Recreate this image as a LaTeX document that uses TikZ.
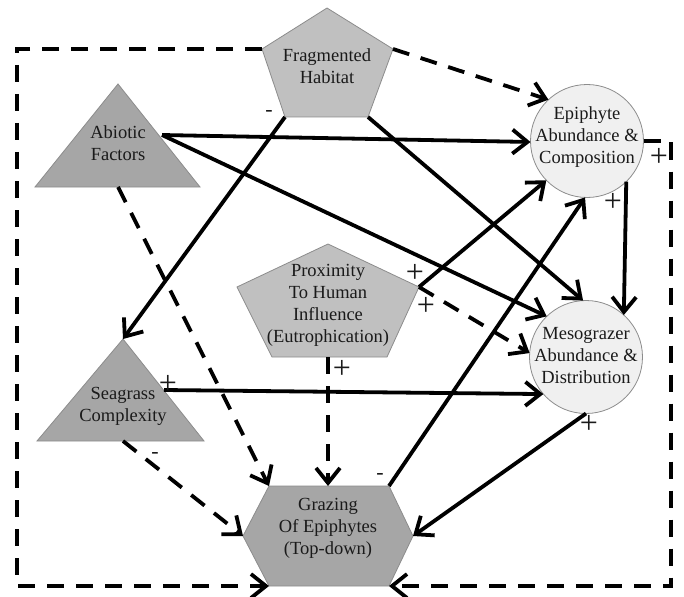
\documentclass[tikz,border=0pt]{standalone}
\usepackage{fontspec}
\setmainfont{Liberation Serif}
\newfontfamily\timesfam{Liberation Serif}
\usetikzlibrary{arrows.meta}
\definecolor{tri}{HTML}{A6A6A6}
\definecolor{pent}{HTML}{C0C0C0}
\definecolor{circ}{HTML}{F0F0F0}
\definecolor{edgegray}{HTML}{8C8C8C}
\definecolor{txt}{HTML}{1A1A1A}
\begin{document}
\begin{tikzpicture}[x=1pt,y=-1pt,
  shapeline/.style={draw=edgegray, line width=0.8pt},
  lbl/.style={font=\timesfam\fontsize{18.5}{22}\selectfont, text=txt, align=center, inner sep=0pt},
  conn/.style={line width=3.8pt, -{Straight Barb[length=15pt,width=24pt]}},
  dconn/.style={conn, dash pattern=on 17pt off 12pt},
  sign/.style={font=\timesfam\fontsize{32}{32}\selectfont, text=txt, inner sep=0pt},
  neg/.style={font=\timesfam\fontsize{22}{22}\selectfont, text=txt, inner sep=0pt},
  blob/.style={circle, minimum size=113pt, inner sep=0pt, outer sep=0pt, fill=circ, shapeline},
]
\useasboundingbox (0,0) rectangle (684,596);

% Fragmented Habitat
\coordinate (fhT) at (327,8);
\coordinate (fhUL) at (262,49);
\coordinate (fhUR) at (393,49);
\coordinate (fhLR) at (368,117);
\coordinate (fhLL) at (285,117);
\filldraw[fill=pent, shapeline] (fhT) -- (fhUR) -- (fhLR) -- (fhLL) -- (fhUL) -- cycle;
\node[lbl] (fh) at (327,66) {Fragmented\\Habitat};

% Abiotic Factors
\coordinate (abT) at (118,84);
\coordinate (abL) at (35,187);
\coordinate (abR) at (200,187);
\coordinate (abE) at (162,135);
\coordinate (abB) at (118,187);
\filldraw[fill=tri, shapeline] (abT) -- (abR) -- (abL) -- cycle;
\node[lbl] (ab) at (118,143) {Abiotic\\Factors};

% Seagrass Complexity
\coordinate (sgT) at (123,339);
\coordinate (sgL) at (37,441);
\coordinate (sgR) at (204,441);
\coordinate (sgE) at (164,390);
\coordinate (sgB) at (123,441);
\filldraw[fill=tri, shapeline] (sgT) -- (sgR) -- (sgL) -- cycle;
\node[lbl] (sg) at (123,406) {Seagrass\\Complexity};

% Proximity
\coordinate (prT) at (328,244);
\coordinate (prL) at (237,287);
\coordinate (prR) at (419,287);
\coordinate (prBR) at (387,357);
\coordinate (prBL) at (272,357);
\coordinate (prB) at (328,357);
\filldraw[fill=pent, shapeline] (prT) -- (prR) -- (prBR) -- (prBL) -- (prL) -- cycle;
\node[lbl] (pr) at (328,305) {Proximity\\To Human\\Influence\\(Eutrophication)};

% Grazing
\coordinate (grTL) at (269,486);
\coordinate (grTR) at (389,486);
\coordinate (grR) at (413,536);
\coordinate (grBR) at (389,586);
\coordinate (grBL) at (269,586);
\coordinate (grL) at (243,536);
\coordinate (grT) at (328,486);
\filldraw[fill=tri, shapeline] (grTL) -- (grTR) -- (grR) -- (grBR) -- (grBL) -- (grL) -- cycle;
\node[lbl] (gr) at (328,528) {Grazing\\Of Epiphytes\\(Top-down)};

% Circles
\node[blob] (ep) at (587,141) {};
\node[lbl] (eptext) at (587,137) {Epiphyte\\Abundance \&\\Composition};
\node[blob] (me) at (586,357) {};
\node[lbl] (metext) at (586,356) {Mesograzer\\Abundance \&\\Distribution};

% loop corners
\coordinate (lp1) at (671,141);
\coordinate (lp2) at (671,586);
\coordinate (lq1) at (17,49);
\coordinate (lq2) at (17,586);

% connectors
\draw[dconn] (fhUR) -- (ep.133);
\draw[conn] (fhLL) -- (sgT);
\draw[conn] (fhLR) -- (me.93);
\draw[conn] (abE) -- (ep.181);
\draw[conn] (abE) -- (me.134);
\draw[dconn] (abB) -- (grTL);
\draw[conn] (prR) -- (ep.224);
\draw[dconn] (prR) -- (me.176);
\draw[dconn] (prB) -- (grT);
\draw[conn] (sgE) -- (me.221);
\draw[dconn] (sgB) -- (grL);
\draw[conn] (grTR) -- (ep.268);
\draw[conn] (me.270) -- (grR);
\draw[conn] (ep.314) -- (me.48);
\draw[dconn] (ep.0) -- (lp1) -- (lp2) -- (grBR);
\draw[dconn] (fhUL) -- (lq1) -- (lq2) -- (grBL);

% signs
\node[neg] (m1) at (269,113) {-};
\node[sign] (p1) at (659,157) {+};
\node[sign] (p2) at (613,202) {+};
\node[sign] (p3) at (415,273) {+};
\node[sign] (p4) at (426,306) {+};
\node[sign] (p5) at (342,369) {+};
\node[sign] (p6) at (168,384) {+};
\node[neg] (m2) at (155,455) {-};
\node[neg] (m3) at (380,476) {-};
\node[sign] (p7) at (589,424) {+};
\end{tikzpicture}
\end{document}
